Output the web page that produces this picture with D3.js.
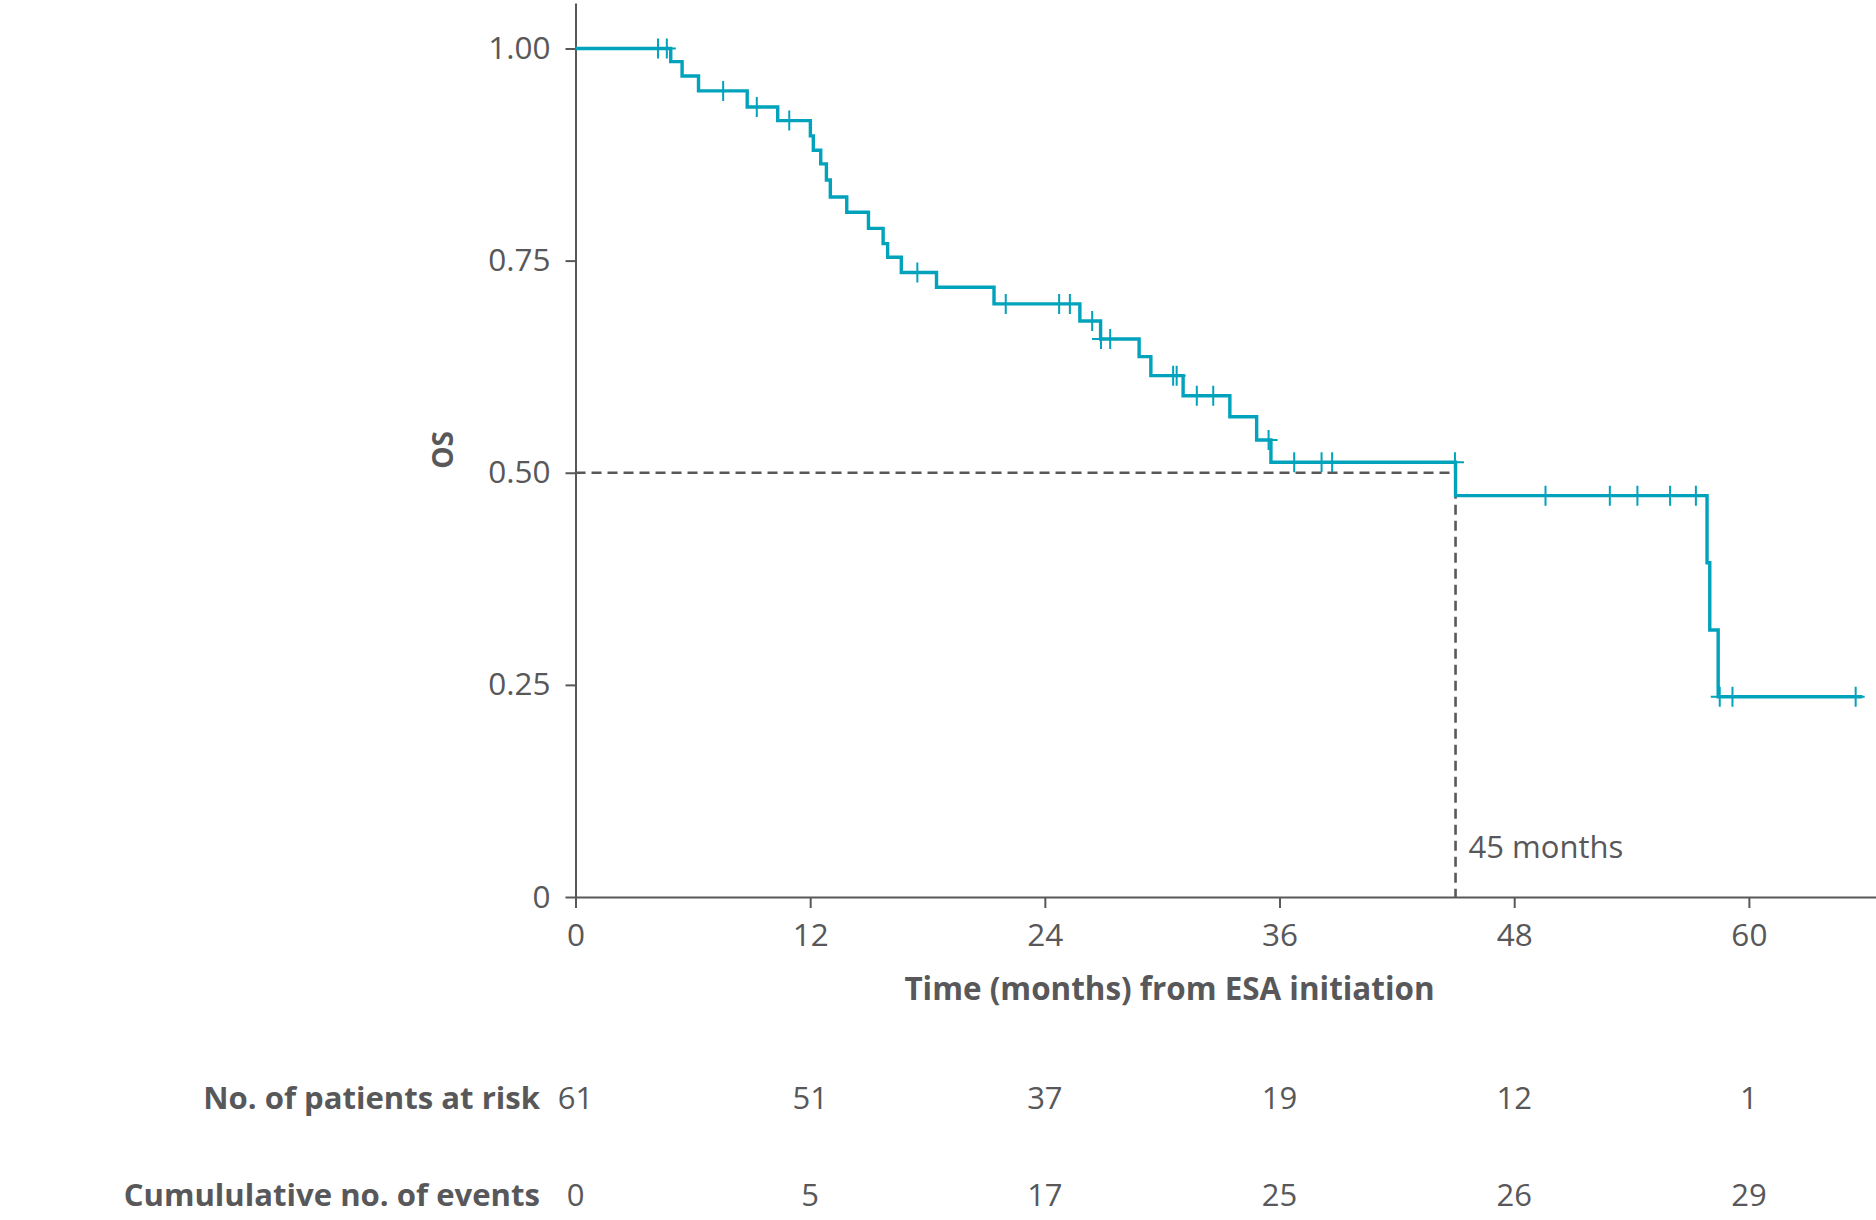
<!DOCTYPE html>
<html>
<head>
<meta charset="utf-8">
<script src="https://cdn.jsdelivr.net/npm/d3@7"></script>
<style>
  html, body { margin: 0; padding: 0; background: #ffffff; }
  text { font-family: "Open Sans", "Noto Sans", sans-serif; fill: #58585a; }
</style>
</head>
<body>
<svg id="chart" width="1876" height="1220"></svg>
<script>
// ---- Data ----
// Kaplan-Meier step drops: time (months) of each event and the survival level after it
const eventTimes = [4.87, 5.45, 6.29, 8.78, 10.34, 12.01, 12.16, 12.54, 12.83, 13.03,
  13.87, 14.98, 15.73, 15.96, 16.66, 18.46, 21.4, 25.79, 26.85, 28.82,
  29.42, 31.07, 33.46, 34.83, 35.56, 45.0, 57.86, 58.0, 58.43];
const survival = [0.9845, 0.9676, 0.950, 0.931, 0.915, 0.897, 0.880, 0.864, 0.845, 0.825,
  0.807, 0.788, 0.770, 0.754, 0.736, 0.7186, 0.699, 0.6788, 0.6576, 0.6368,
  0.6144, 0.5908, 0.566, 0.5386, 0.5123, 0.473, 0.394, 0.3147, 0.236];
// censored observations (months)
const censorTimes = [4.22, 4.67, 7.55, 9.27, 10.93, 17.48, 22.0, 24.73, 25.28, 26.42,
  26.87, 27.34, 30.56, 30.74, 31.77, 32.61, 35.44, 36.75, 38.15, 38.69,
  44.97, 49.6, 52.89, 54.3, 55.97, 57.29, 58.51, 59.16, 65.46];
const followUpEnd = 65.8;
const medianTime = 45;
const medianSurv = 0.5;
const medianLabel = "45 months";

const xTicks = [0, 12, 24, 36, 48, 60];
const yTicks = [0, 0.25, 0.5, 0.75, 1];
const yTickLabels = ["0", "0.25", "0.50", "0.75", "1.00"];
const atRisk = [61, 51, 37, 19, 12, 1];
const cumEvents = [0, 5, 17, 25, 26, 29];
const atRiskLabel = "No. of patients at risk";
const eventsLabel = "Cumululative no. of events";
const xTitle = "Time (months) from ESA initiation";
const yTitle = "OS";

// ---- Layout & style ----
const LINE = "#00a3bb";
const GREY = "#58585a";
const svg = d3.select("#chart");

const x = d3.scaleLinear().domain([0, 66.5]).range([575.5, 1876]);
const y = d3.scaleLinear().domain([0, 1.0536]).range([897, 3]);

// axes
const xAxis = svg.append("g")
  .attr("transform", `translate(0,${y(0)})`)
  .call(d3.axisBottom(x).tickValues(xTicks).tickFormat(d3.format("d"))
    .tickSize(11).tickSizeOuter(0).tickPadding(15.5));
const yAxis = svg.append("g")
  .attr("transform", `translate(${x(0)},0)`)
  .call(d3.axisLeft(y).tickValues(yTicks).tickFormat((d, i) => yTickLabels[i])
    .tickSize(10).tickSizeOuter(0).tickPadding(15));
[xAxis, yAxis].forEach(g => {
  g.select(".domain").attr("stroke", GREY).attr("stroke-width", 2);
  g.selectAll(".tick line").attr("stroke", GREY).attr("stroke-width", 2);
  g.selectAll(".tick text").attr("fill", GREY)
    .style("font-family", '"Open Sans", sans-serif').style("font-size", "31.5px");
});

// median dashed guide lines
const dashG = svg.append("g").attr("fill", "none").attr("stroke", GREY)
  .attr("stroke-width", 2.6).attr("stroke-dasharray", "10,6");
dashG.append("line")
  .attr("x1", x(0)).attr("x2", x(medianTime))
  .attr("y1", y(medianSurv)).attr("y2", y(medianSurv));
dashG.append("line")
  .attr("x1", x(medianTime)).attr("x2", x(medianTime))
  .attr("y1", y(medianSurv)).attr("y2", y(0));

svg.append("text")
  .attr("x", x(medianTime) + 13).attr("y", 858)
  .style("font-size", "31px")
  .text(medianLabel);

// KM step curve
const pts = [[0, 1]].concat(eventTimes.map((t, i) => [t, survival[i]]));
pts.push([followUpEnd, survival[survival.length - 1]]);
const line = d3.line().x(d => x(d[0])).y(d => y(d[1])).curve(d3.curveStepAfter);
svg.append("path")
  .datum(pts)
  .attr("fill", "none")
  .attr("stroke", LINE)
  .attr("stroke-width", 3.4)
  .attr("d", line);

// censor marks
function survAt(t) {
  const i = d3.bisectRight(eventTimes, t);
  return i === 0 ? 1 : survival[i - 1];
}
svg.append("g").selectAll("path")
  .data(censorTimes)
  .join("path")
  .attr("fill", "none")
  .attr("stroke", LINE)
  .attr("stroke-width", 2)
  .attr("d", t => {
    const cx = x(t), cy = y(survAt(t));
    return `M${cx - 9},${cy}H${cx + 9}M${cx},${cy - 10}V${cy + 10}`;
  });

// axis titles
svg.append("text")
  .attr("x", 1169.5).attr("y", 1000)
  .attr("text-anchor", "middle")
  .style("font-size", "31.4px").style("font-weight", "700")
  .text(xTitle);
svg.append("text")
  .attr("transform", `translate(453,${(y(0) + y(1.0536)) / 2}) rotate(-90)`)
  .attr("text-anchor", "middle")
  .style("font-size", "28px").style("font-weight", "700")
  .text(yTitle);

// risk table
const riskRows = [
  { label: atRiskLabel, values: atRisk, yPos: 1109 },
  { label: eventsLabel, values: cumEvents, yPos: 1206 }
];
riskRows.forEach(r => {
  svg.append("text")
    .attr("x", 540).attr("y", r.yPos)
    .attr("text-anchor", "end")
    .style("font-size", "31.1px").style("font-weight", "700")
    .text(r.label);
  svg.append("g").selectAll("text")
    .data(r.values)
    .join("text")
    .attr("x", (d, i) => x(xTicks[i]))
    .attr("y", r.yPos)
    .attr("text-anchor", "middle")
    .style("font-size", "31px")
    .text(d => d);
});
</script>
</body>
</html>
